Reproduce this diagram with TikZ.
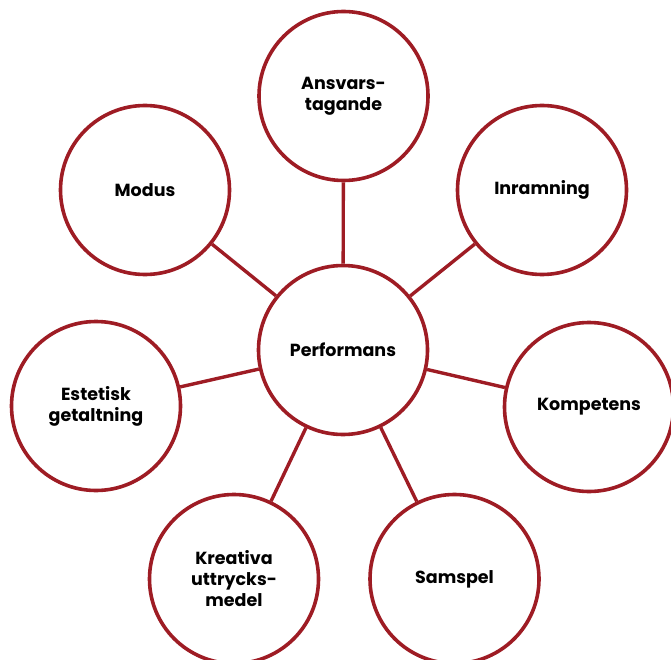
\documentclass[tikz,border=0pt]{standalone}
\usepackage{fontspec}
\setmainfont{Poppins}
\usepackage{tikz}
\definecolor{rim}{RGB}{158,28,36}
\tikzset{
	topic/.style={circle, draw=rim, line width=3.6pt, fill=white, minimum size=169pt, inner sep=0pt,
		align=center, font=\bfseries\fontsize{17.5}{21}\selectfont},
	link/.style={draw=rim, line width=3.4pt}
}

\begin{document}
\begin{tikzpicture}[x=1pt,y=-1pt]
	\useasboundingbox (0,0) rectangle (671,660);
	\node[topic] (perf) at (343,350) {Performans};
	\node[topic] (ansvar) at (343.5,96) {Ansvars-\\tagande};
	\node[topic] (modus) at (145,190) {Modus};
	\node[topic] (inram) at (542,190) {Inramning};
	\node[topic] (estet) at (96,406) {Estetisk\\getaltning};
	\node[topic] (kompet) at (589,407) {Kompetens};
	\node[topic] (kreativ) at (234,579) {Kreativa\\uttrycks-\\medel};
	\node[topic] (samspel) at (454.5,579) {Samspel};

	\draw[link] (perf) -- (ansvar);
	\draw[link] (perf) -- (modus);
	\draw[link] (perf) -- (inram);
	\draw[link] (perf) -- (estet);
	\draw[link] (perf) -- (kompet);
	\draw[link] (perf) -- (kreativ);
	\draw[link] (perf) -- (samspel);
\end{tikzpicture}
\end{document}
